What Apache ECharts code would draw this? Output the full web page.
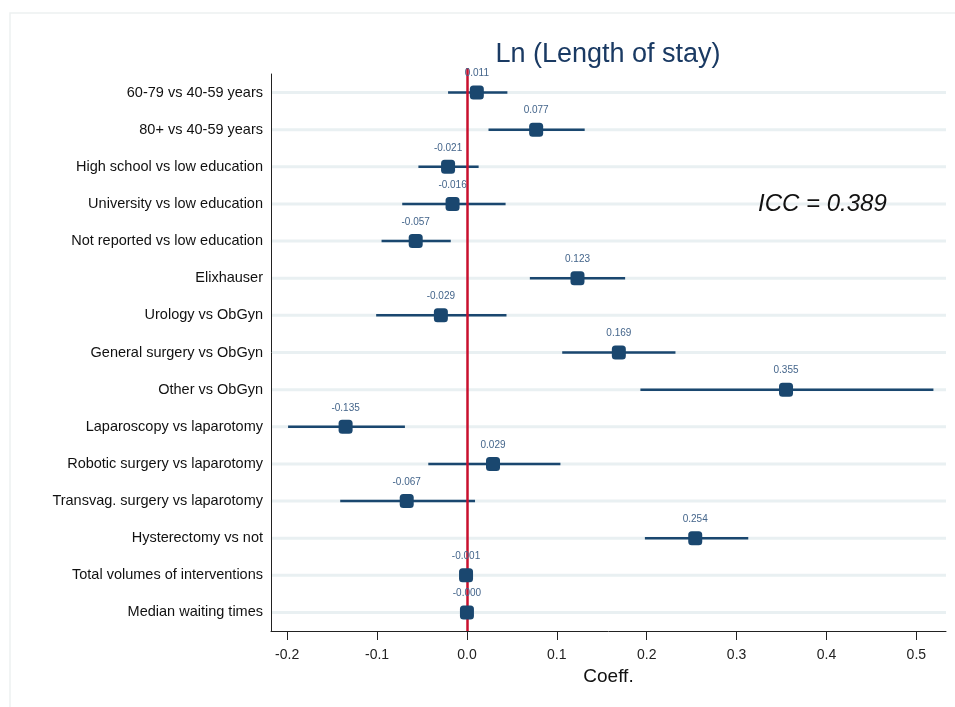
<!DOCTYPE html>
<html>
<head>
<meta charset="utf-8">
<script src="https://cdn.jsdelivr.net/npm/echarts@6/dist/echarts.min.js"></script>
<style>html,body{margin:0;padding:0;background:#fff;}#c{width:955px;height:707px;}</style>
</head>
<body>
<div id="c"></div>
<script>
const categories = [
  "60-79 vs 40-59 years",
  "80+ vs 40-59 years",
  "High school vs low education",
  "University vs low education",
  "Not reported vs low education",
  "Elixhauser",
  "Urology vs ObGyn",
  "General surgery vs ObGyn",
  "Other vs ObGyn",
  "Laparoscopy vs laparotomy",
  "Robotic surgery vs laparotomy",
  "Transvag. surgery vs laparotomy",
  "Hysterectomy vs not",
  "Total volumes of interventions",
  "Median waiting times"
];
const coef  = [0.011, 0.077, -0.021, -0.016, -0.057, 0.123, -0.029, 0.169, 0.355, -0.135, 0.029, -0.067, 0.254, -0.001, -0.000];
const lower = [-0.021, 0.024, -0.054, -0.072, -0.095, 0.070, -0.101, 0.106, 0.193, -0.199, -0.043, -0.141, 0.198, -0.003, -0.001];
const upper = [0.045, 0.131, 0.013, 0.043, -0.018, 0.176, 0.044, 0.232, 0.519, -0.069, 0.104, 0.009, 0.313, 0.001, 0.001];
const coefLabels = ["0.011","0.077","-0.021","-0.016","-0.057","0.123","-0.029","0.169","0.355","-0.135","0.029","-0.067","0.254","-0.001","-0.000"];
const xTicks = [-0.2, -0.1, 0.0, 0.1, 0.2, 0.3, 0.4, 0.5];
const titleText = "Ln (Length of stay)";
const iccText = "ICC = 0.389";

const navy = "#1a476f";
const chart = echarts.init(document.getElementById('c'), null, {renderer: 'canvas'});

const option = {
  animation: false,
  backgroundColor: '#ffffff',
  textStyle: {fontFamily: 'Liberation Sans, Arial, sans-serif'},
  title: {
    text: titleText,
    left: 603, top: 36, textAlign: 'center',
    textStyle: {fontSize: 27, fontWeight: 'normal', color: '#1a3a63', fontFamily: 'Liberation Sans, Arial, sans-serif'}
  },
  graphic: [
    {type: 'rect', shape: {x: 10, y: 13, width: 960, height: 710}, style: {fill: 'none', stroke: '#edf1f1', lineWidth: 1.5}, z: -10},
    {type: 'text', left: 758, top: 192, z: 100, style: {text: iccText, font: 'italic 24px "Liberation Sans", Arial, sans-serif', fill: '#111'}}
  ],
  grid: {left: 271, right: 9, top: 74, bottom: 76},
  xAxis: {
    type: 'value', min: -0.218, max: 0.533,
    name: 'Coeff.', nameLocation: 'middle', nameGap: 34,
    nameTextStyle: {fontSize: 19, color: '#111'},
    axisLine: {show: true, onZero: false, lineStyle: {color: '#222', width: 1}},
    axisTick: {show: true, length: 9, customValues: xTicks, lineStyle: {color: '#222'}},
    axisLabel: {customValues: xTicks, fontSize: 14, color: '#222', margin: 17, formatter: v => v.toFixed(1)},
    splitLine: {show: false}
  },
  yAxis: {
    type: 'category', data: categories, inverse: true,
    axisLine: {show: true, onZero: false, lineStyle: {color: '#222', width: 1}},
    axisTick: {show: false},
    axisLabel: {fontSize: 14.5, color: '#111', margin: 8},
    splitLine: {show: false}
  },
  series: [
    {
      type: 'custom', z: 1,
      renderItem: function (params, api) {
        const cs = params.coordSys;
        const p = api.coord([0, api.value(0)]);
        return {type: 'line', shape: {x1: cs.x + 1, y1: p[1], x2: cs.x + cs.width, y2: p[1]},
                style: {stroke: '#e9f0f2', lineWidth: 3}};
      },
      data: categories.map((c, i) => [i]),
      silent: true
    },
    {
      type: 'custom', z: 3,
      renderItem: function (params, api) {
        const a = api.coord([api.value(1), api.value(0)]);
        const b = api.coord([api.value(2), api.value(0)]);
        return {type: 'line', shape: {x1: a[0], y1: a[1], x2: b[0], y2: b[1]},
                style: {stroke: navy, lineWidth: 2.5}};
      },
      data: categories.map((c, i) => [i, lower[i], upper[i]]),
      encode: {x: [1, 2], y: 0}
    },
    {
      type: 'scatter', z: 5,
      symbol: 'roundRect', symbolSize: 14,
      itemStyle: {color: navy, opacity: 1},
      label: {show: true, position: 'top', distance: 7, fontSize: 10, color: '#44658b',
              formatter: p => coefLabels[p.dataIndex]},
      data: categories.map((c, i) => [coef[i], i]),
      markLine: {
        silent: true, symbol: 'none', z: 4,
        label: {show: false},
        lineStyle: {color: '#c8102e', width: 2.5, type: 'solid'},
        data: [[{xAxis: 0, y: 68}, {xAxis: 0, y: 631}]]
      }
    }
  ]
};
chart.setOption(option);
</script>
</body>
</html>
